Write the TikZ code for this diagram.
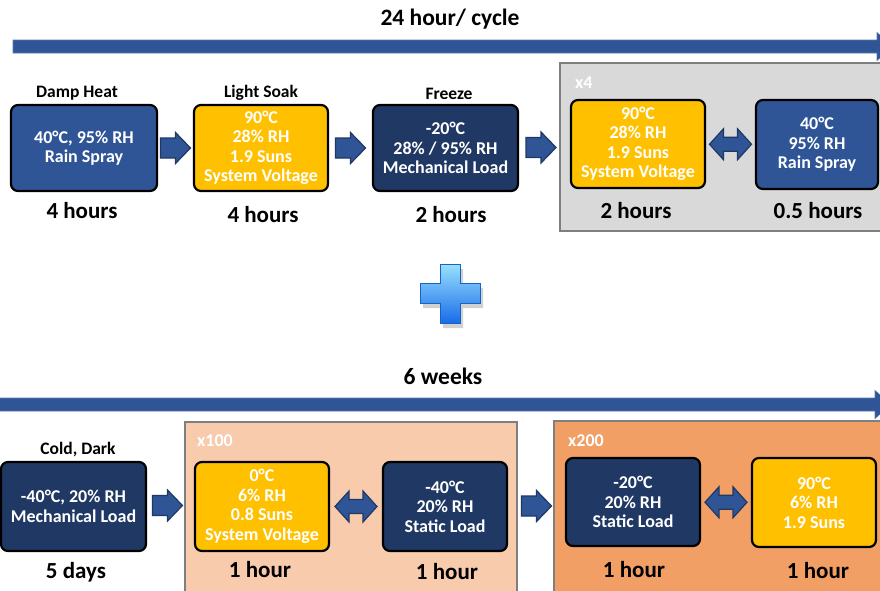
\documentclass[tikz,border=0pt]{standalone}
\usepackage{fontspec}
\setmainfont{Carlito}
\usetikzlibrary{calc}
\definecolor{cblue}{HTML}{2F5597}
\definecolor{cnavy}{HTML}{203864}
\definecolor{cyellow}{HTML}{FFC000}
\definecolor{cgray}{HTML}{D9D9D9}
\definecolor{cgrayline}{HTML}{7F7F7F}
\definecolor{cpeach}{HTML}{F8CBAD}
\definecolor{corange}{HTML}{F29F66}
\definecolor{carrowline}{HTML}{1F3864}
\tikzset{
  box/.style={draw=black, line width=2.2pt, rounded corners=7pt, text=white, align=center,
    font=\bfseries\fontsize{18}{19.5}\selectfont, inner sep=0pt},
  lbl/.style={anchor=base, font=\bfseries\fontsize{17.5}{20}\selectfont, text=black, inner sep=0pt},
  dur/.style={anchor=base, font=\bfseries\fontsize{23}{27}\selectfont, text=black, inner sep=0pt},
  ttl/.style={anchor=base, font=\bfseries\fontsize{23.5}{27}\selectfont, text=black, inner sep=0pt},
  rep/.style={anchor=base west, font=\bfseries\fontsize{18}{20}\selectfont, text=white, inner sep=0pt},
  container/.style={draw=cgrayline, line width=2.5pt},
  arrowstyle/.style={fill=cblue, draw=carrowline, line width=1.2pt, line join=miter},
  barrow/.pic={\path[arrowstyle] (-15,-10) -- (0,-10) -- (0,-15.5) -- (15,0) -- (0,15.5) -- (0,10) -- (-15,10) -- cycle;},
  darrow/.pic={\path[arrowstyle] (-21,0) -- (-7,-15.5) -- (-7,-7) -- (7,-7) -- (7,-15.5) -- (21,0) -- (7,15.5) -- (7,7) -- (-7,7) -- (-7,15.5) -- cycle;},
  bar/.style={fill=cblue, draw=cblue!80!white, line width=0.6pt}
}
\begin{document}
\begin{tikzpicture}[x=1pt,y=-1pt]
\useasboundingbox (0,0) rectangle (880,590);
\clip (0,0) rectangle (880,590);
\fill[white] (0,0) rectangle (880,590);

% ---------- top timeline ----------
\node[ttl] (t1) at (450,25) {24 hour/ cycle};
\coordinate (b1s) at (13,46.5);
\coordinate (b1e) at (877,46.5);
\path[bar] ($(b1s)+(0,-6.5)$) -- ($(b1e)+(0,-6.5)$) -- ($(b1e)+(0,-14)$) -- ($(b1e)+(16,0)$) -- ($(b1e)+(0,14)$) -- ($(b1e)+(0,6.5)$) -- ($(b1s)+(0,6.5)$) -- cycle;

% gray container
\path[container, fill=cgray] (560,63) rectangle (895,231);
\node[rep] (x4) at (575,88) {x4};

% top boxes
\node[box, fill=cblue, minimum width=146pt, minimum height=86pt] (dh) at (84,148) {40°C, 95\% RH\\Rain Spray};
\node[lbl] (dhl) at (77,97) {Damp Heat};
\node[dur] (dhd) at (82,218) {4 hours};

\node[box, fill=cyellow, minimum width=134pt, minimum height=86pt] (ls) at (261,148) {90°C\\28\% RH\\1.9 Suns\\System Voltage};
\node[lbl] (lsl) at (261,97) {Light Soak};
\node[dur] (lsd) at (263,222) {4 hours};

\node[box, fill=cnavy, minimum width=145pt, minimum height=86pt] (fz) at (445.5,148) {-20°C\\28\% / 95\% RH\\Mechanical Load};
\node[lbl] (fzl) at (449,99) {Freeze};
\node[dur] (fzd) at (451,222) {2 hours};

\node[box, fill=cyellow, minimum width=134pt, minimum height=88pt] (g1) at (638,144) {90°C\\28\% RH\\1.9 Suns\\System Voltage};
\node[dur] (g1d) at (636,218) {2 hours};
\node[box, fill=cblue, minimum width=122pt, minimum height=89pt] (g2) at (817,144.5) {40°C\\95\% RH\\Rain Spray};
\node[dur] (g2d) at (818,218) {0.5 hours};

\pic at ($(dh.east)!0.5!(ls.west)+(0,0)$) {barrow};
\pic at ($(ls.east)!0.5!(fz.west)$) {barrow};
\pic at (541,147.5) {barrow};
\pic at ($(g1.east)!0.5!(g2.west)$) {darrow};

% ---------- plus ----------
\fill[black, opacity=0.18] (443,269) -- (463,269) -- (463,288) -- (483,288) -- (483,308) -- (463,308) -- (463,328) -- (443,328) -- (443,308) -- (423,308) -- (423,288) -- (443,288) -- cycle;
\path[top color=blue!30!cyan!40!white, bottom color=blue!60!cyan!90!black!90, draw={rgb,255:red,20;green,100;blue,200}, line width=1pt]
  (440,264) -- (460,264) -- (460,283) -- (480,283) -- (480,303) -- (460,303) -- (460,323) -- (440,323) -- (440,303) -- (420,303) -- (420,283) -- (440,283) -- cycle;

% ---------- bottom timeline ----------
\node[ttl] (t2) at (443,384) {6 weeks};
\coordinate (b2s) at (-2,404.5);
\coordinate (b2e) at (875,404.5);
\path[bar] ($(b2s)+(0,-6.5)$) -- ($(b2e)+(0,-6.5)$) -- ($(b2e)+(0,-14)$) -- ($(b2e)+(16,0)$) -- ($(b2e)+(0,14)$) -- ($(b2e)+(0,6.5)$) -- ($(b2s)+(0,6.5)$) -- cycle;

\path[container, fill=cpeach] (185,422) rectangle (517,600);
\node[rep] (x100) at (197,446) {x100};
\path[container, fill=corange] (554,421) rectangle (895,600);
\node[rep] (x200) at (568,446) {x200};

\node[box, fill=cnavy, minimum width=145pt, minimum height=89pt] (cd) at (73.5,506.5) {-40°C, 20\% RH\\Mechanical Load};
\node[lbl] (cdl) at (78,454) {Cold, Dark};
\node[dur] (cdd) at (76,578) {5 days};

\node[box, fill=cyellow, minimum width=134pt, minimum height=89pt] (p1) at (262,506.5) {0°C\\6\% RH\\0.8 Suns\\System Voltage};
\node[dur] (p1d) at (260,577) {1 hour};
\node[box, fill=cnavy, minimum width=124pt, minimum height=89pt] (p2) at (445,506.5) {-40°C\\20\% RH\\Static Load};
\node[dur] (p2d) at (447,579) {1 hour};

\node[box, fill=cnavy, minimum width=134pt, minimum height=88pt] (o1) at (633,502) {-20°C\\20\% RH\\Static Load};
\node[dur] (o1d) at (634,577) {1 hour};
\node[box, fill=cyellow, minimum width=124pt, minimum height=89pt] (o2) at (814,502.5) {90°C\\6\% RH\\1.9 Suns};
\node[dur] (o2d) at (818,578) {1 hour};

\pic at (167.5,505.5) {barrow};
\pic at ($(p1.east)!0.5!(p2.west)$) {darrow};
\pic at (536.5,506) {barrow};
\pic at ($(o1.east)!0.5!(o2.west)$) {darrow};
\end{tikzpicture}
\end{document}
